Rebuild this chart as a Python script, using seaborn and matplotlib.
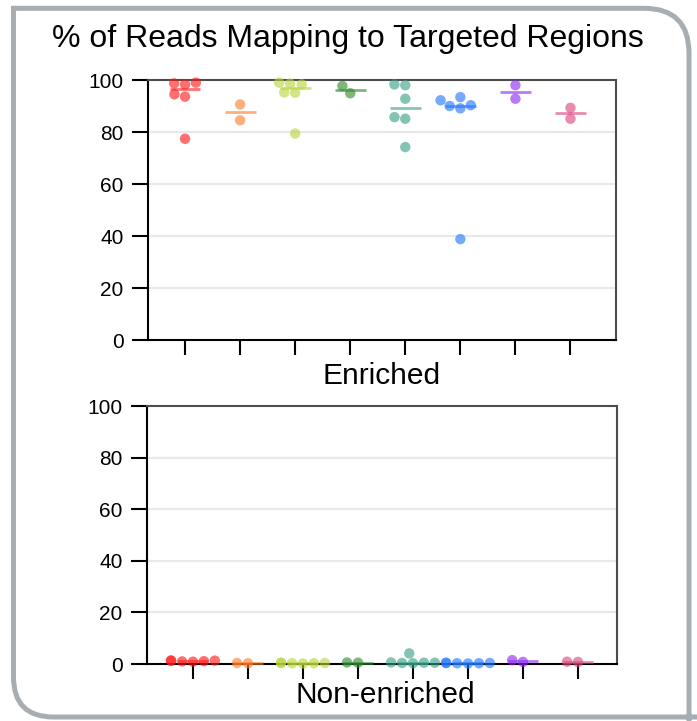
import numpy as np
import pandas as pd
import seaborn as sns
import matplotlib
matplotlib.use("Agg")
import matplotlib.pyplot as plt
from matplotlib.path import Path
from matplotlib.patches import PathPatch

# ---------------- data ----------------
groups = ["S1", "S2", "S3", "S4", "S5", "S6", "S7", "S8"]
colors = ["#FF1A1A", "#FF7F2A", "#B8D63A", "#2E8B2E", "#3A9F88", "#2277FF", "#8C2BF0", "#D9457F"]

enriched = {
    "S1": [98.7, 98.3, 99.0, 94.5, 93.6, 77.4],
    "S2": [90.6, 84.5],
    "S3": [98.3, 98.6, 99.0, 95.1, 95.2, 79.4],
    "S4": [97.7, 94.9],
    "S5": [98.0, 98.3, 92.8, 85.7, 85.1, 74.2],
    "S6": [92.2, 93.4, 90.3, 90.0, 89.1, 38.8],
    "S7": [98.0, 92.8],
    "S8": [89.3, 85.1],
}
non_enriched = {
    "S1": [1.4, 1.2, 1.0, 1.3, 1.1, 0.9],
    "S2": [0.4, 0.3],
    "S3": [0.4, 0.3, 0.5, 0.3, 0.4, 0.2],
    "S4": [0.6, 0.5],
    "S5": [0.5, 0.4, 0.6, 0.3, 0.5, 4.1],
    "S6": [0.3, 0.4, 0.2, 0.3, 0.5, 0.4],
    "S7": [1.5, 0.8],
    "S8": [0.9, 0.8],
}
title = "% of Reads Mapping to Targeted Regions"
panel_labels = ["Enriched", "Non-enriched"]
yticks = [0, 20, 40, 60, 80, 100]


def to_df(d):
    rows = [(g, v) for g in groups for v in d[g]]
    return pd.DataFrame(rows, columns=["group", "value"])


sns.set_theme(style="white")
plt.rcParams["font.family"] = ["Liberation Sans", "DejaVu Sans"]
plt.rcParams["text.color"] = "black"
plt.rcParams["xtick.color"] = "black"
plt.rcParams["ytick.color"] = "black"

W, H = 697, 721
fig = plt.figure(figsize=(W / 100, H / 100), dpi=100)


def px_axes(l, t, r, b):
    return fig.add_axes([l / W, 1 - b / H, (r - l) / W, (b - t) / H])


ax_top = px_axes(148, 80, 616, 340)
ax_bot = px_axes(147, 406, 617, 664)

ALPHA = 0.62
for ax, data, xlim in [(ax_top, enriched, (-0.673, 7.827)),
                       (ax_bot, non_enriched, (-0.836, 7.71))]:
    df = to_df(data)
    med = df.groupby("group")["value"].median().reindex(groups)
    for yv in yticks[1:-1]:
        ax.axhline(yv, color="#E9E9E9", lw=1.6, zorder=0)
    sns.swarmplot(data=df, x="group", y="value", hue="group", order=groups,
                  hue_order=groups, palette=colors, size=7.5, alpha=ALPHA,
                  linewidth=0, legend=False, ax=ax, clip_on=False, zorder=3)
    ax.hlines(med.values, np.arange(len(groups)) - 0.28, np.arange(len(groups)) + 0.28,
              colors=colors, lw=2.0, alpha=ALPHA, zorder=4, clip_on=False)
    ax.set_xlim(*xlim)
    ax.set_ylim(0, 100)
    ax.set_yticks(yticks)
    ax.set_yticklabels([str(v) for v in yticks], fontsize=15, color="black")
    ax.set_xticks(range(len(groups)))
    ax.set_xticklabels([])
    ax.set_xlabel("")
    ax.set_ylabel("")
    ax.tick_params(axis="y", direction="out", length=11.5, width=1.5, color="black",
                   labelcolor="black", pad=6, left=True)
    ax.tick_params(axis="x", direction="out", length=11, width=1.5, color="black",
                   bottom=True)
    for s in ["left", "bottom"]:
        ax.spines[s].set_color("black")
        ax.spines[s].set_linewidth(1.5)
    for s in ["top", "right"]:
        ax.spines[s].set_color("#4d4d4d")
        ax.spines[s].set_linewidth(1.5)
    for s in ax.spines.values():
        s.set_visible(True)

fig.text(348 / W, 1 - 46.5 / H, title, ha="center", va="baseline", fontsize=23, color="black")
fig.text(382 / W, 1 - 384.5 / H, panel_labels[0], ha="center", va="baseline", fontsize=21.5, color="black")
fig.text(385 / W, 1 - 703 / H, panel_labels[1], ha="center", va="baseline", fontsize=21.5, color="black")

# decorative frame (pixel coordinates, image origin at top-left)
L, T, R, B = 13.5, 8.3, 689.0, 717.0
rt, rb = 45, 40
pts = [
    (R, H + 10),
    (R, T + rt),
    (R, T), (R - rt, T),
    (L, T),
    (L, B - rb),
    (L, B), (L + rb, B),
    (W + 10, B),
]
codes = [Path.MOVETO, Path.LINETO, Path.CURVE3, Path.CURVE3, Path.LINETO,
         Path.LINETO, Path.CURVE3, Path.CURVE3, Path.LINETO]
verts = [(x / W, 1 - y / H) for x, y in pts]
frame = PathPatch(Path(verts, codes), fill=False, edgecolor="#A8ADB2", lw=3.6,
                  transform=fig.transFigure, clip_on=False, joinstyle="miter")
fig.add_artist(frame)

fig.savefig("out.png", dpi=100)
